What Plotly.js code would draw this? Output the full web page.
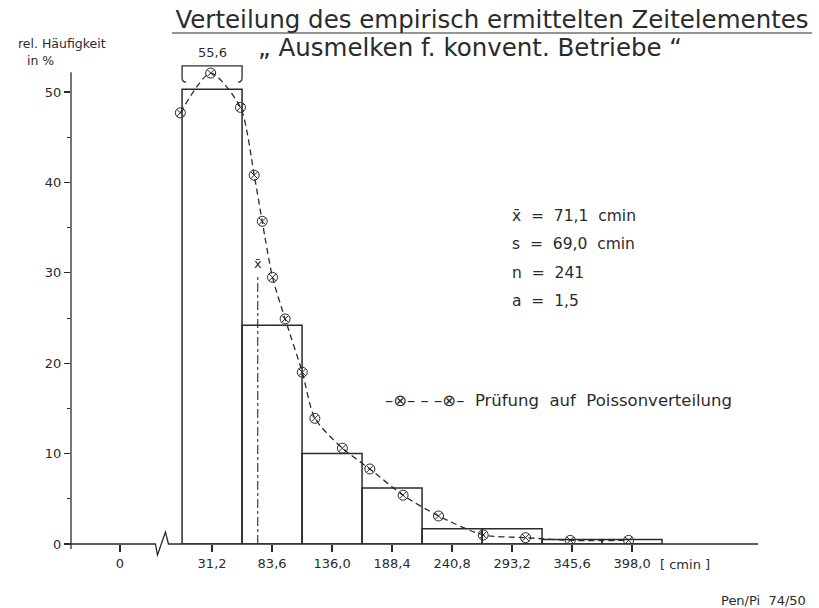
<!DOCTYPE html>
<html>
<head>
<meta charset="utf-8">
<script src="https://cdn.plot.ly/plotly-3.0.1.min.js"></script>
<style>html,body{margin:0;padding:0;background:#fff;}#chart{width:819px;height:608px;}</style>
</head>
<body>
<div id="chart"></div>
<script>
// ---- data ----
const classMid = [31.2, 83.6, 136.0, 188.4, 240.8, 293.2, 345.6, 398.0];
const classWidth = 52.4;
const relFreq = [55.6, 24.2, 10.0, 6.2, 1.7, 1.7, 0.5, 0.5];
const tickText = ['0', '31,2', '83,6', '136,0', '188,4', '240,8', '293,2', '345,6', '398,0'];
const poissonX = [3.5, 30, 56, 68, 75, 84, 95, 110, 121, 145, 169, 198, 229, 268, 305, 344, 395];
const poissonY = [47.7, 52.1, 48.3, 40.8, 35.7, 29.5, 24.9, 19.0, 13.9, 10.6, 8.3, 5.4, 3.1, 1.0, 0.7, 0.4, 0.4];
const statLabels = ['x̄', 's', 'n', 'a'];
const statValues = ['71,1  cmin', '69,0  cmin', '241', '1,5'];
const meanX = 71.1;
const zeroPos = -49.2;      // where "0" sits, left of the axis break
const breakX = -13;         // x-axis break position
const breakLevel = 50.3;    // y-axis break for the first bar

// ---- layout helpers ----
const ink = '#2b2b2b';
const font = 'DejaVu Sans, Liberation Sans, sans-serif';
const xRange = [-92, 508];
const yRange = [0, 53.1];
const W = 819, H = 608, mL = 71, mR = 61, mT = 64, mB = 64;
const pw = W - mL - mR, ph = H - mT - mB;
const xp = v => (v - xRange[0]) / (xRange[1] - xRange[0]);
const dxp = px => px / pw;
const dyp = px => px / ph;
const yp = v => (v - yRange[0]) / (yRange[1] - yRange[0]);

const barDisplay = relFreq.map(v => Math.min(v, breakLevel));

const traces = [
  {
    type: 'bar', x: classMid, y: barDisplay, width: classWidth,
    marker: {color: 'rgba(0,0,0,0)', line: {color: ink, width: 1.5}},
    hoverinfo: 'skip'
  },
  {
    type: 'scatter', mode: 'lines+markers', x: poissonX, y: poissonY,
    line: {color: ink, width: 1.3, dash: '6px,4px', shape: 'spline', smoothing: 0.7},
    marker: {symbol: 'circle-x-open', size: 10, color: ink, line: {width: 1, color: ink}},
    hoverinfo: 'skip'
  }
];

// cap for the broken first bar
const cx0 = classMid[0] - classWidth / 2, cx1 = classMid[0] + classWidth / 2;
const yb = 51.1, yt = 52.9, rx = 3.5, ry = 0.45;
const capPath = `M ${cx0 + rx},${yb} Q ${cx0},${yb} ${cx0},${yb + ry} L ${cx0},${yt} L ${cx1},${yt} L ${cx1},${yb + ry} Q ${cx1},${yb} ${cx1 - rx},${yb}`;

const bx = xp(breakX);
const axisPath = `M ${-dxp(3)},0 L ${bx - dxp(6)},0 L ${bx - dxp(4)},${-dyp(11)} L ${bx + dxp(4)},${dyp(12)} L ${bx + dxp(7)},0 L 1,0`;

const shapes = [
  {type: 'path', xref: 'paper', yref: 'paper', path: axisPath, line: {color: ink, width: 1.3}},
  {type: 'line', xref: 'paper', yref: 'paper', x0: 0, x1: 0, y0: -dyp(5), y1: yp(52.2), line: {color: ink, width: 1.3}},
  {type: 'path', xref: 'x', yref: 'y', path: capPath, line: {color: ink, width: 1.3}},
  {type: 'line', xref: 'x', yref: 'y', x0: meanX, x1: meanX, y0: 0, y1: 29.6, line: {color: ink, width: 1.1, dash: 'dashdot'}},
  // title underline
  {type: 'line', xref: 'paper', yref: 'paper', x0: dxp(172 - mL), x1: dxp(812 - mL), y0: dyp(H - mB - 33), y1: dyp(H - mB - 33), line: {color: ink, width: 1.2}}
];

const fmt = v => v.toFixed(1).replace('.', ',');

const annotations = [
  {xref: 'paper', yref: 'paper', x: dxp(470 - mL), y: dyp(H - mB - 48), text: '„ Ausmelken f. konvent. Betriebe “', showarrow: false, font: {size: 24.5, color: ink, family: font}, xanchor: 'center', yanchor: 'middle'},
  {xref: 'paper', yref: 'paper', x: dxp(62 - mL), y: dyp(H - mB - 43), text: 'rel. Häufigkeit', showarrow: false, font: {size: 12.5, color: ink, family: font}, xanchor: 'center', yanchor: 'middle'},
  {xref: 'paper', yref: 'paper', x: dxp(40 - mL), y: dyp(H - mB - 60), text: 'in %', showarrow: false, font: {size: 12.5, color: ink, family: font}, xanchor: 'center', yanchor: 'middle'},
  {xref: 'x', yref: 'paper', x: classMid[0], y: dyp(H - mB - 53), text: fmt(relFreq[0]), showarrow: false, font: {size: 13, color: ink, family: font}, xanchor: 'center', yanchor: 'middle'},
  {xref: 'x', yref: 'y', x: meanX, y: 31.0, text: 'x̄', showarrow: false, font: {size: 13, color: ink, family: font}, xanchor: 'center', yanchor: 'middle'},
  {xref: 'paper', yref: 'paper', x: dxp(383 - mL), y: dyp(H - mB - 400), text: '–⊗– – –⊗–  Prüfung  auf  Poissonverteilung', showarrow: false, font: {size: 16.5, color: ink, family: font}, xanchor: 'left', yanchor: 'middle'},
  {xref: 'paper', yref: 'paper', x: dxp(658 - mL), y: dyp(H - mB - 564), text: '[ cmin ]', showarrow: false, font: {size: 13, color: ink, family: font}, xanchor: 'left', yanchor: 'middle'},
  {xref: 'paper', yref: 'paper', x: dxp(808 - mL), y: dyp(H - mB - 600), text: 'Pen/Pi  74/50', showarrow: false, font: {size: 13, color: ink, family: font}, xanchor: 'right', yanchor: 'middle'}
];
const statY = [216, 244, 273, 301];
statLabels.forEach((lab, i) => {
  annotations.push({xref: 'paper', yref: 'paper', x: dxp(510 - mL), y: dyp(H - mB - statY[i]), text: lab + '  =  ' + statValues[i], showarrow: false, font: {size: 15.5, color: ink, family: font}, xanchor: 'left', yanchor: 'middle'});
});

const layout = {
  width: W, height: H,
  margin: {l: mL, r: mR, t: mT, b: mB, pad: 0},
  paper_bgcolor: '#fff', plot_bgcolor: '#fff',
  showlegend: false,
  font: {family: font, color: ink},
  title: {text: 'Verteilung des empirisch ermittelten Zeitelementes', font: {size: 24.5, color: ink, family: font}, xref: 'container', yref: 'container', x: 492 / W, y: 1 - 19 / H, xanchor: 'center', yanchor: 'middle'},
  xaxis: {
    range: xRange, showgrid: false, zeroline: false, showline: false,
    tickmode: 'array', tickvals: [zeroPos].concat(classMid), ticktext: tickText,
    ticks: 'outside', ticklen: 7, tickwidth: 1.2, tickcolor: ink,
    tickfont: {size: 13, color: ink, family: font}
  },
  yaxis: {
    range: yRange, showgrid: false, zeroline: false, showline: false,
    tickmode: 'array', tickvals: [0, 10, 20, 30, 40, 50],
    ticks: 'outside', ticklen: 6, tickwidth: 1.2, tickcolor: ink,
    minor: {tickmode: 'array', tickvals: [5, 15, 25, 35, 45], ticks: 'outside', ticklen: 3, tickcolor: ink, tickwidth: 1},
    tickfont: {size: 13, color: ink, family: font}
  },
  shapes: shapes,
  annotations: annotations
};

Plotly.newPlot('chart', traces, layout, {staticPlot: true, displayModeBar: false});
</script>
</body>
</html>
